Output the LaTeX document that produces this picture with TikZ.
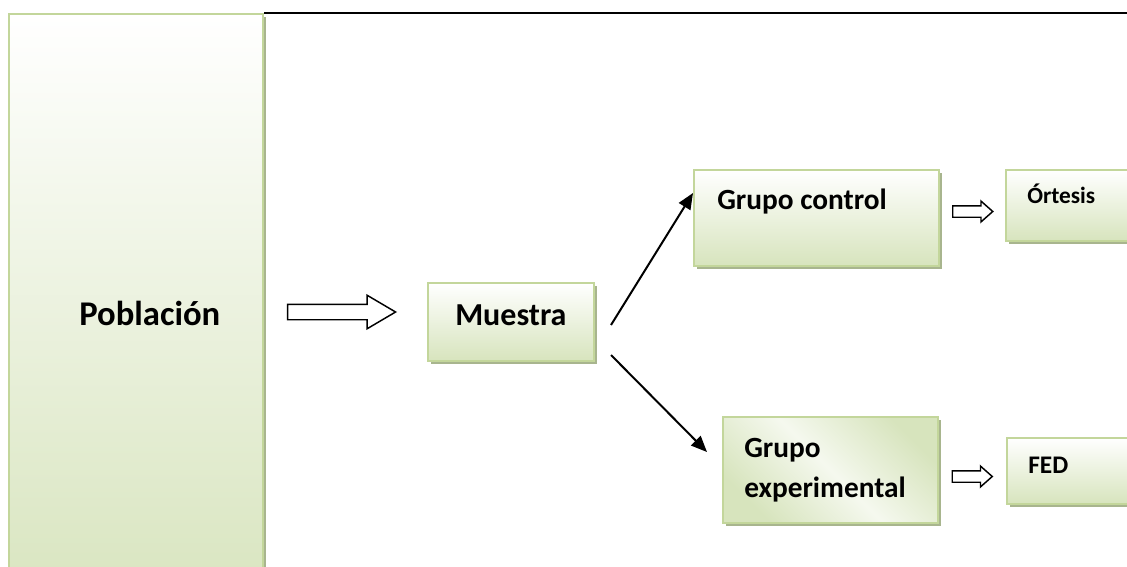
\documentclass[tikz,border=0pt]{standalone}
\usepackage{fontspec}
\setmainfont{Carlito}
\usetikzlibrary{arrows.meta,shapes.arrows,shadows}

\definecolor{boxedge}{HTML}{C3D69B}
\definecolor{boxfill}{HTML}{D7E4BD}
\definecolor{boxshade}{HTML}{A8B58E}

\tikzset{
  box/.style={draw=boxedge, line width=1.5pt, top color=white, bottom color=boxfill,
    anchor=north west, inner sep=0pt,
    drop shadow={shadow xshift=2.25pt, shadow yshift=-2.25pt, fill=boxshade, opacity=1}},
  txt/.style={inner sep=0pt, anchor=base west},
  hollow/.style={single arrow, draw=black, line width=1.1pt, fill=white,
    single arrow head indent=0pt},
  conn/.style={line width=1.5pt, -{Triangle[length=12pt,width=10pt]}}
}

\begin{document}
\begin{tikzpicture}[x=0.75pt,y=-0.75pt]
  \useasboundingbox (0,0) rectangle (1127,567);

  % boxes
  \node[box, minimum width=190.5pt, minimum height=455pt] (pob) at (8,13) {};
  \node[box, minimum width=124.5pt, minimum height=58.5pt] (mue) at (427,282) {};
  \node[box, minimum width=183.75pt, minimum height=72pt] (gc) at (693,169) {};
  \node[box, minimum width=123.75pt, minimum height=53.25pt] (ort) at (1005,169) {};
  \node[box, minimum width=161.25pt, minimum height=79.5pt,
        top color=boxfill, bottom color=boxfill, middle color=white!75!boxfill,
        shading angle=-45] (ge) at (722,416) {};
  \node[box, minimum width=123.75pt, minimum height=49.5pt] (fed) at (1006,437) {};

  % texts
  \node[txt, font=\fontsize{26}{30}\bfseries\selectfont] (pobt) at (79,325) {Población};
  \node[txt, font=\fontsize{24}{28}\bfseries\selectfont] (muet) at (455,325) {Muestra};
  \node[txt, font=\fontsize{22}{26}\bfseries\selectfont] (gct) at (717,209) {Grupo control};
  \node[txt, font=\fontsize{17.5}{20}\bfseries\selectfont] (ortt) at (1027,203) {Órtesis};
  \node[txt, align=left, font=\fontsize{22}{30}\bfseries\selectfont] (get) at (744,497) {Grupo\\experimental};
  \node[txt, font=\fontsize{19}{22}\bfseries\selectfont] (fedt) at (1028,473) {FED};

  % top rule
  \coordinate (rim) at (1127,13);
  \draw[line width=1.5pt] (pob.north east) -- (rim);

  % hollow arrows
  \node[hollow, inner sep=5.25pt, minimum height=81pt, single arrow head extend=6.75pt,
        single arrow tip angle=61] (a1) at (335,312) {};
  \node[hollow, inner sep=3.75pt, minimum height=30pt, single arrow head extend=3.5pt,
        single arrow tip angle=83] (a2) at (969.5,211.5) {};
  \node[hollow, inner sep=3.75pt, minimum height=30pt, single arrow head extend=3.5pt,
        single arrow tip angle=83] (a3) at (969,476.5) {};

  % split
  \draw[conn] ([xshift=12pt,yshift=-2.25pt]mue.east) -- ([yshift=18.75pt]gc.west);
  \draw[conn] ([xshift=12pt,yshift=-24.75pt]mue.east) -- ([xshift=-11.25pt,yshift=13.5pt]ge.west);
\end{tikzpicture}
\end{document}
